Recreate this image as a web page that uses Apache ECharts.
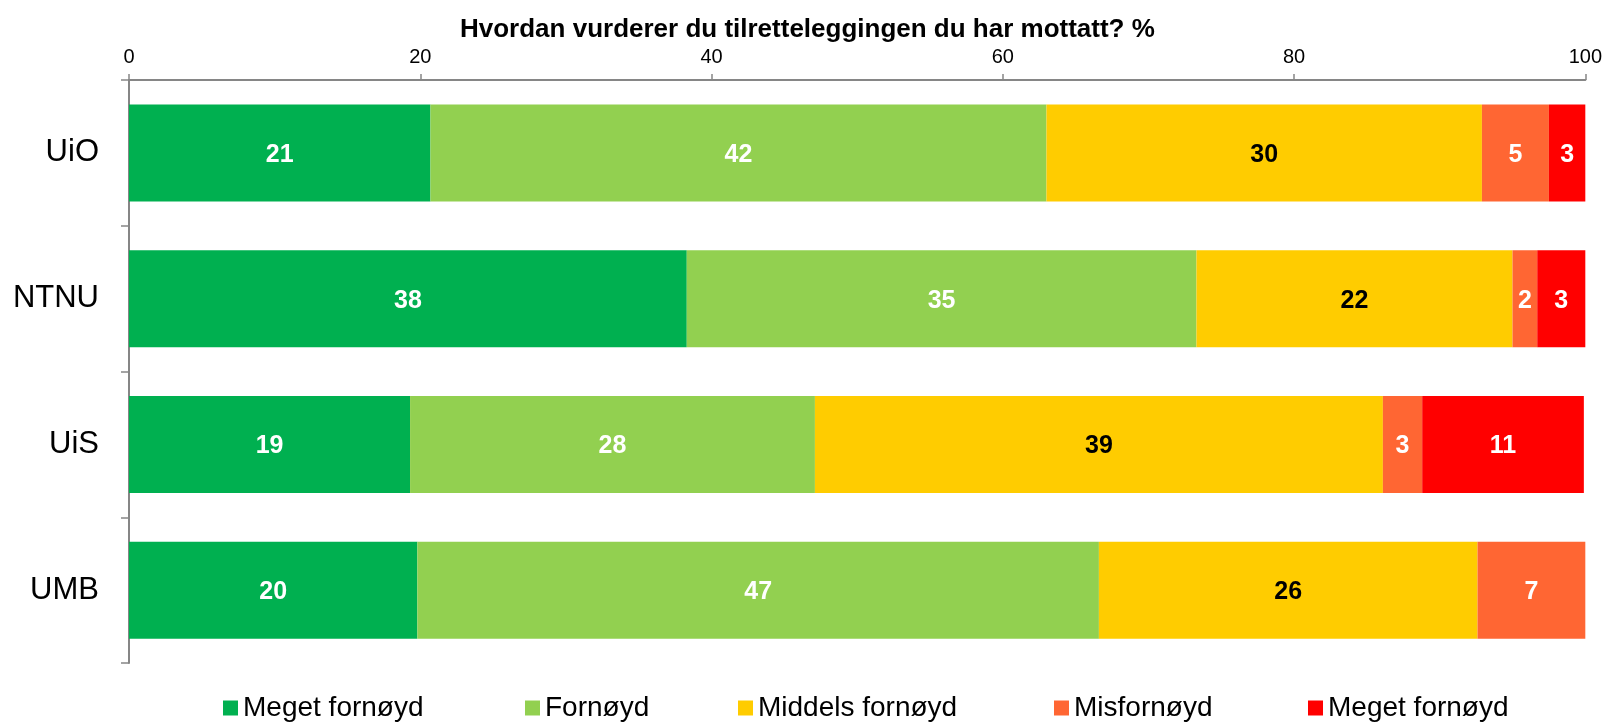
<!DOCTYPE html>
<html>
<head>
<meta charset="utf-8">
<script src="https://cdn.jsdelivr.net/npm/echarts@6/dist/echarts.min.js"></script>
<style>
  html, body { margin: 0; padding: 0; background: #fff; }
  #chart { width: 1605px; height: 723px; }
</style>
</head>
<body>
<div id="chart"></div>
<script>
var categories = ['UiO', 'NTNU', 'UiS', 'UMB'];
var seriesNames = ['Meget fornøyd', 'Fornøyd', 'Middels fornøyd', 'Misfornøyd', 'Meget fornøyd '];
var megetFornoyd = [20.7, 38.3, 19.3, 19.8];
var fornoyd = [42.3, 35.0, 27.8, 46.8];
var middels = [29.9, 21.7, 39.0, 26.0];
var misfornoyd = [4.6, 1.7, 2.7, 7.4];
var megetMisfornoyd = [2.6, 3.3, 11.1, 0];
var xTicks = [0, 20, 40, 60, 80, 100];

var colors = ['#00B050', '#92D050', '#FFCC00', '#FF6633', '#FF0000'];
var labelColors = ['#fff', '#fff', '#000', '#fff', '#fff'];
var legendLeft = [218, 520, 733, 1049, 1303];
var font = '"Liberation Sans", Arial, sans-serif';

var values = [megetFornoyd, fornoyd, middels, misfornoyd, megetMisfornoyd];

var chart = echarts.init(document.getElementById('chart'));

var series = seriesNames.map(function (name, i) {
    return {
        name: name,
        type: 'bar',
        stack: 'total',
        barWidth: 97,
        itemStyle: { color: colors[i] },
        label: {
            show: true,
            position: 'inside',
            offset: [0, 2],
            color: labelColors[i],
            fontWeight: 'bold',
            fontSize: 25,
            fontFamily: font,
            formatter: function (p) {
                return p.value > 0 ? Math.round(p.value) : '';
            }
        },
        data: values[i]
    };
});

var legends = seriesNames.map(function (name, i) {
    return {
        data: [name],
        left: legendLeft[i],
        top: 689,
        icon: 'rect',
        itemWidth: 15,
        itemHeight: 15,
        itemGap: 0,
        selectedMode: false,
        formatter: function (n) { return n.trim(); },
        textStyle: { fontSize: 28, color: '#000', fontFamily: font }
    };
});

var option = {
    animation: false,
    color: colors,
    title: {
        text: 'Hvordan vurderer du tilretteleggingen du har mottatt? %',
        left: 455,
        top: 12,
        textStyle: { fontSize: 26, fontWeight: 'bold', color: '#000', fontFamily: font }
    },
    legend: legends,
    grid: { left: 129, right: 19, top: 80, bottom: 60 },
    xAxis: {
        type: 'value',
        position: 'top',
        min: xTicks[0],
        max: xTicks[xTicks.length - 1],
        interval: 20,
        splitLine: { show: false },
        axisLine: { show: true, lineStyle: { color: '#868686', width: 2 } },
        axisTick: { show: true, length: 6, lineStyle: { color: '#868686', width: 1.5 } },
        axisLabel: { fontSize: 20, color: '#000', margin: 13, fontFamily: font }
    },
    yAxis: {
        type: 'category',
        inverse: true,
        data: categories,
        axisLine: { show: true, lineStyle: { color: '#868686', width: 2 } },
        axisTick: { show: true, length: 8, lineStyle: { color: '#868686', width: 1.5 } },
        axisLabel: { fontSize: 31, color: '#000', margin: 30, fontFamily: font }
    },
    series: series
};

chart.setOption(option);
</script>
</body>
</html>
